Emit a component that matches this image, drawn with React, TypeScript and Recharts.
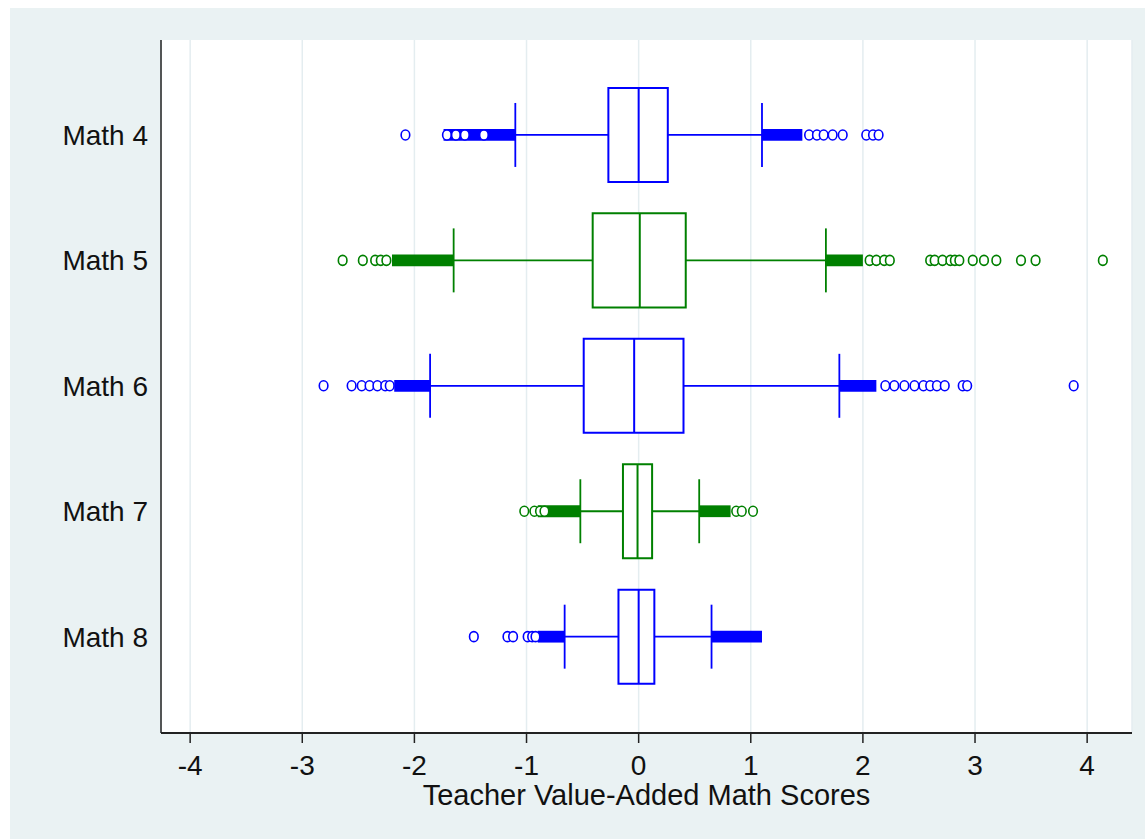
import {
  CartesianGrid,
  ComposedChart,
  ReferenceArea,
  ReferenceLine,
  Scatter,
  XAxis,
  YAxis,
} from "recharts";

const categories = ["Math 4", "Math 5", "Math 6", "Math 7", "Math 8"];
const boxColors = ["#0000ff", "#008000", "#0000ff", "#008000", "#0000ff"];

const q1 = [-0.27, -0.41, -0.49, -0.14, -0.18];
const medians = [0.0, 0.01, -0.04, -0.01, 0.0];
const q3 = [0.26, 0.42, 0.4, 0.12, 0.14];
const lowerWhisker = [-1.1, -1.65, -1.86, -0.52, -0.66];
const upperWhisker = [1.1, 1.67, 1.79, 0.54, 0.65];

// ranges where the outlier markers overlap into a solid band
const lowerDense = [
  [-1.74, -1.1],
  [-2.2, -1.65],
  [-2.18, -1.86],
  [-0.9, -0.52],
  [-0.9, -0.66],
];
const upperDense = [
  [1.1, 1.46],
  [1.67, 2.0],
  [1.79, 2.12],
  [0.54, 0.82],
  [0.65, 1.1],
];

const outliers4 = [-2.08, -1.71, -1.63, -1.55, -1.38, 1.52, 1.59, 1.65, 1.73, 1.82, 2.03, 2.09, 2.14];
const outliers5 = [
  -2.64, -2.46, -2.35, -2.3, -2.25, 2.06, 2.12, 2.19, 2.24, 2.6, 2.64, 2.71, 2.78, 2.82, 2.86, 2.98,
  3.08, 3.19, 3.41, 3.54, 4.14,
];
const outliers6 = [
  -2.81, -2.56, -2.47, -2.4, -2.33, -2.26, -2.22, 2.2, 2.28, 2.37, 2.46, 2.54, 2.6, 2.66, 2.73, 2.89,
  2.93, 3.88,
];
const outliers7 = [-1.02, -0.93, -0.88, -0.84, 0.87, 0.92, 1.02];
const outliers8 = [-1.47, -1.17, -1.12, -0.99, -0.95, -0.92];
const outliers = [outliers4, outliers5, outliers6, outliers7, outliers8];

const xTicks = [-4, -3, -2, -1, 0, 1, 2, 3, 4];
const yTicks = [1, 2, 3, 4, 5];

const FONT = "'Liberation Sans', Arial, sans-serif";
const BOX_HALF = 0.375;
const CAP_HALF = 0.255;
const BAND_HALF = 0.047;

const blueOutliers: { x: number; y: number }[] = [];
const greenOutliers: { x: number; y: number }[] = [];
outliers.forEach((list, i) => {
  const target = boxColors[i] === "#0000ff" ? blueOutliers : greenOutliers;
  list.forEach((v) => target.push({ x: v, y: i + 1 }));
});

// Stata's hollow circle renders a bit diamond-like at this size
const hollow = (color: string) => (props: any) => (
  <ellipse
    cx={props.cx}
    cy={props.cy}
    rx={4.3}
    ry={5}
    fill="#ffffff"
    stroke={color}
    strokeWidth={1.6}
  />
);

export default function App() {
  return (
    <div
      style={{
        position: "fixed",
        left: 10,
        top: 8,
        width: 1135,
        height: 831,
        background: "#eaf2f3",
        fontFamily: FONT,
      }}
    >
      <ComposedChart
        width={1135}
        height={831}
        margin={{ top: 32, right: 13, bottom: 26, left: 0 }}
      >
        <CartesianGrid
          horizontal={false}
          stroke="#e4edf0"
          strokeWidth={1.5}
          fill="#ffffff"
        />
        <XAxis
          type="number"
          dataKey="x"
          domain={[-4.26, 4.4]}
          ticks={xTicks}
          allowDataOverflow
          height={80}
          tickSize={10}
          tickMargin={12}
          axisLine={{ stroke: "#222", strokeWidth: 2 }}
          tickLine={{ stroke: "#222", strokeWidth: 1.5 }}
          tick={{ fill: "#111", fontSize: 28, fontFamily: FONT }}
          label={{
            value: "Teacher Value-Added Math Scores",
            position: "insideBottom",
            offset: 8,
            fill: "#111",
            fontSize: 29,
            fontFamily: FONT,
          }}
        />
        <YAxis
          type="number"
          dataKey="y"
          domain={[0.243, 5.768]}
          reversed
          ticks={yTicks}
          allowDataOverflow
          width={151}
          tickLine={false}
          tickSize={0}
          tickMargin={13}
          tickFormatter={(v: number) => categories[v - 1]}
          axisLine={{ stroke: "#222", strokeWidth: 1.5 }}
          tick={{ fill: "#111", fontSize: 28, fontFamily: FONT }}
        />

        {categories.map((c, i) => (
          <ReferenceArea
            key={"ld" + c}
            x1={lowerDense[i][0]}
            x2={lowerDense[i][1]}
            y1={i + 1 - BAND_HALF}
            y2={i + 1 + BAND_HALF}
            fill={boxColors[i]}
            fillOpacity={1}
            stroke="none"
          />
        ))}
        {categories.map((c, i) => (
          <ReferenceArea
            key={"ud" + c}
            x1={upperDense[i][0]}
            x2={upperDense[i][1]}
            y1={i + 1 - BAND_HALF}
            y2={i + 1 + BAND_HALF}
            fill={boxColors[i]}
            fillOpacity={1}
            stroke="none"
          />
        ))}

        <Scatter
          data={blueOutliers}
          shape={hollow("#0000ff")}
          isAnimationActive={false}
        />
        <Scatter
          data={greenOutliers}
          shape={hollow("#008000")}
          isAnimationActive={false}
        />

        {categories.map((c, i) => (
          <ReferenceLine
            key={"lw" + c}
            segment={[
              { x: lowerWhisker[i], y: i + 1 },
              { x: q1[i], y: i + 1 },
            ]}
            stroke={boxColors[i]}
            strokeWidth={1.8}
          />
        ))}
        {categories.map((c, i) => (
          <ReferenceLine
            key={"uw" + c}
            segment={[
              { x: q3[i], y: i + 1 },
              { x: upperWhisker[i], y: i + 1 },
            ]}
            stroke={boxColors[i]}
            strokeWidth={1.8}
          />
        ))}
        {categories.map((c, i) => (
          <ReferenceLine
            key={"lc" + c}
            segment={[
              { x: lowerWhisker[i], y: i + 1 - CAP_HALF },
              { x: lowerWhisker[i], y: i + 1 + CAP_HALF },
            ]}
            stroke={boxColors[i]}
            strokeWidth={1.8}
          />
        ))}
        {categories.map((c, i) => (
          <ReferenceLine
            key={"uc" + c}
            segment={[
              { x: upperWhisker[i], y: i + 1 - CAP_HALF },
              { x: upperWhisker[i], y: i + 1 + CAP_HALF },
            ]}
            stroke={boxColors[i]}
            strokeWidth={1.8}
          />
        ))}
        {categories.map((c, i) => (
          <ReferenceArea
            key={"box" + c}
            x1={q1[i]}
            x2={q3[i]}
            y1={i + 1 - BOX_HALF}
            y2={i + 1 + BOX_HALF}
            fill="#ffffff"
            fillOpacity={1}
            stroke={boxColors[i]}
            strokeWidth={2}
          />
        ))}
        {categories.map((c, i) => (
          <ReferenceLine
            key={"med" + c}
            segment={[
              { x: medians[i], y: i + 1 - BOX_HALF },
              { x: medians[i], y: i + 1 + BOX_HALF },
            ]}
            stroke={boxColors[i]}
            strokeWidth={2}
          />
        ))}
      </ComposedChart>
    </div>
  );
}
